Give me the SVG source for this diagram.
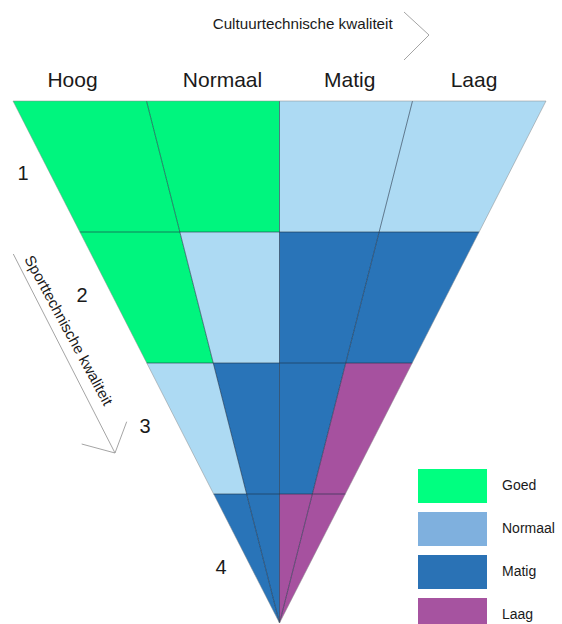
<svg xmlns="http://www.w3.org/2000/svg" width="562" height="624" viewBox="0 0 562 624">
<style>
.t{font-family:"Liberation Sans",Arial,sans-serif;fill:#1a1a1a}
.hd{font-size:21px;text-anchor:middle}
.num{font-size:20px;text-anchor:middle}
.ax{font-size:15px}
.lg{font-size:14px}
.g{fill:#00F57E}
.n{fill:#ADDAF3}
.m{fill:#2974B8}
.l{fill:#A6519F}
.grid{stroke:#1c2f45;stroke-width:0.6;fill:none}
.axis{stroke:#9a9a9a;stroke-width:0.9;fill:none}
</style>
<rect width="562" height="624" fill="#ffffff"/>

<g id="cells">
<g id="r1">
<polygon class="g" points="13,101 146.5,101 179.88,232 79.88,232"/>
<polygon class="g" points="146.5,101 279.5,101 279.5,232 179.88,232"/>
<polygon class="n" points="279.5,101 412.5,101 379.12,232 279.5,232"/>
<polygon class="n" points="412.5,101 546,101 479.12,232 379.12,232"/>
</g>
<g id="r2">
<polygon class="g" points="79.88,232 179.88,232 213.25,363 146.76,363"/>
<polygon class="n" points="179.88,232 279.5,232 279.5,363 213.25,363"/>
<polygon class="m" points="279.5,232 379.12,232 345.75,363 279.5,363"/>
<polygon class="m" points="379.12,232 479.12,232 412.24,363 345.75,363"/>
</g>
<g id="r3">
<polygon class="n" points="146.76,363 213.25,363 246.63,494 213.64,494"/>
<polygon class="m" points="213.25,363 279.5,363 279.5,494 246.63,494"/>
<polygon class="m" points="279.5,363 345.75,363 312.37,494 279.5,494"/>
<polygon class="l" points="345.75,363 412.24,363 345.36,494 312.37,494"/>
</g>
<g id="r4">
<polygon class="m" points="213.64,494 246.63,494 279.5,623"/>
<polygon class="m" points="246.63,494 279.5,494 279.5,623"/>
<polygon class="l" points="279.5,494 312.37,494 279.5,623"/>
<polygon class="l" points="312.37,494 345.36,494 279.5,623"/>
</g>
</g>

<g id="connectors">
<g class="grid">
<line x1="79.88" y1="232" x2="479.12" y2="232"/>
<line x1="146.76" y1="363" x2="412.24" y2="363"/>
<line x1="213.64" y1="494" x2="345.36" y2="494"/>
<line x1="279.5" y1="101" x2="279.5" y2="623"/>
<line x1="146.5" y1="101" x2="279.5" y2="623"/>
<line x1="412.5" y1="101" x2="279.5" y2="623"/>
</g>
<polygon points="13,101 546,101 279.5,623" fill="none" stroke="#8a8a8a" stroke-width="0.5"/>
<polyline class="axis" points="404,12 429,35 404,60"/>
<line class="axis" x1="13.3" y1="254" x2="115" y2="453"/>
<polyline class="axis" points="126.7,421.7 115,453 81.7,444"/>
</g>

<g id="headers">
<text class="t hd" x="72.5" y="86.7">Hoog</text>
<text class="t hd" x="222.5" y="86.7">Normaal</text>
<text class="t hd" x="349.7" y="86.7">Matig</text>
<text class="t hd" x="474" y="86.7">Laag</text>
</g>

<g id="axis-labels">
<text class="t ax" x="212.7" y="28.5" textLength="180" lengthAdjust="spacingAndGlyphs">Cultuurtechnische kwaliteit</text>
<text class="t ax" transform="translate(24,259) rotate(61.5)" x="0" y="0" textLength="168" lengthAdjust="spacingAndGlyphs">Sporttechnische kwaliteit</text>
</g>

<g id="row-numbers">
<text class="t num" x="23" y="180">1</text>
<text class="t num" x="82" y="302">2</text>
<text class="t num" x="145" y="433">3</text>
<text class="t num" x="221" y="574">4</text>
</g>

<g id="legend">
<g id="legend-goed"><rect x="418" y="469" width="69" height="34" fill="#00FF80"/><text class="t lg" x="502" y="489.5">Goed</text></g>
<g id="legend-normaal"><rect x="418" y="512" width="69" height="34" fill="#7FB0DE"/><text class="t lg" x="502" y="532.5">Normaal</text></g>
<g id="legend-matig"><rect x="418" y="555" width="69" height="34" fill="#2A72B5"/><text class="t lg" x="502" y="575.5">Matig</text></g>
<g id="legend-laag"><rect x="418" y="598" width="69" height="34" fill="#A653A0"/><text class="t lg" x="502" y="618.5">Laag</text></g>
</g>
</svg>
